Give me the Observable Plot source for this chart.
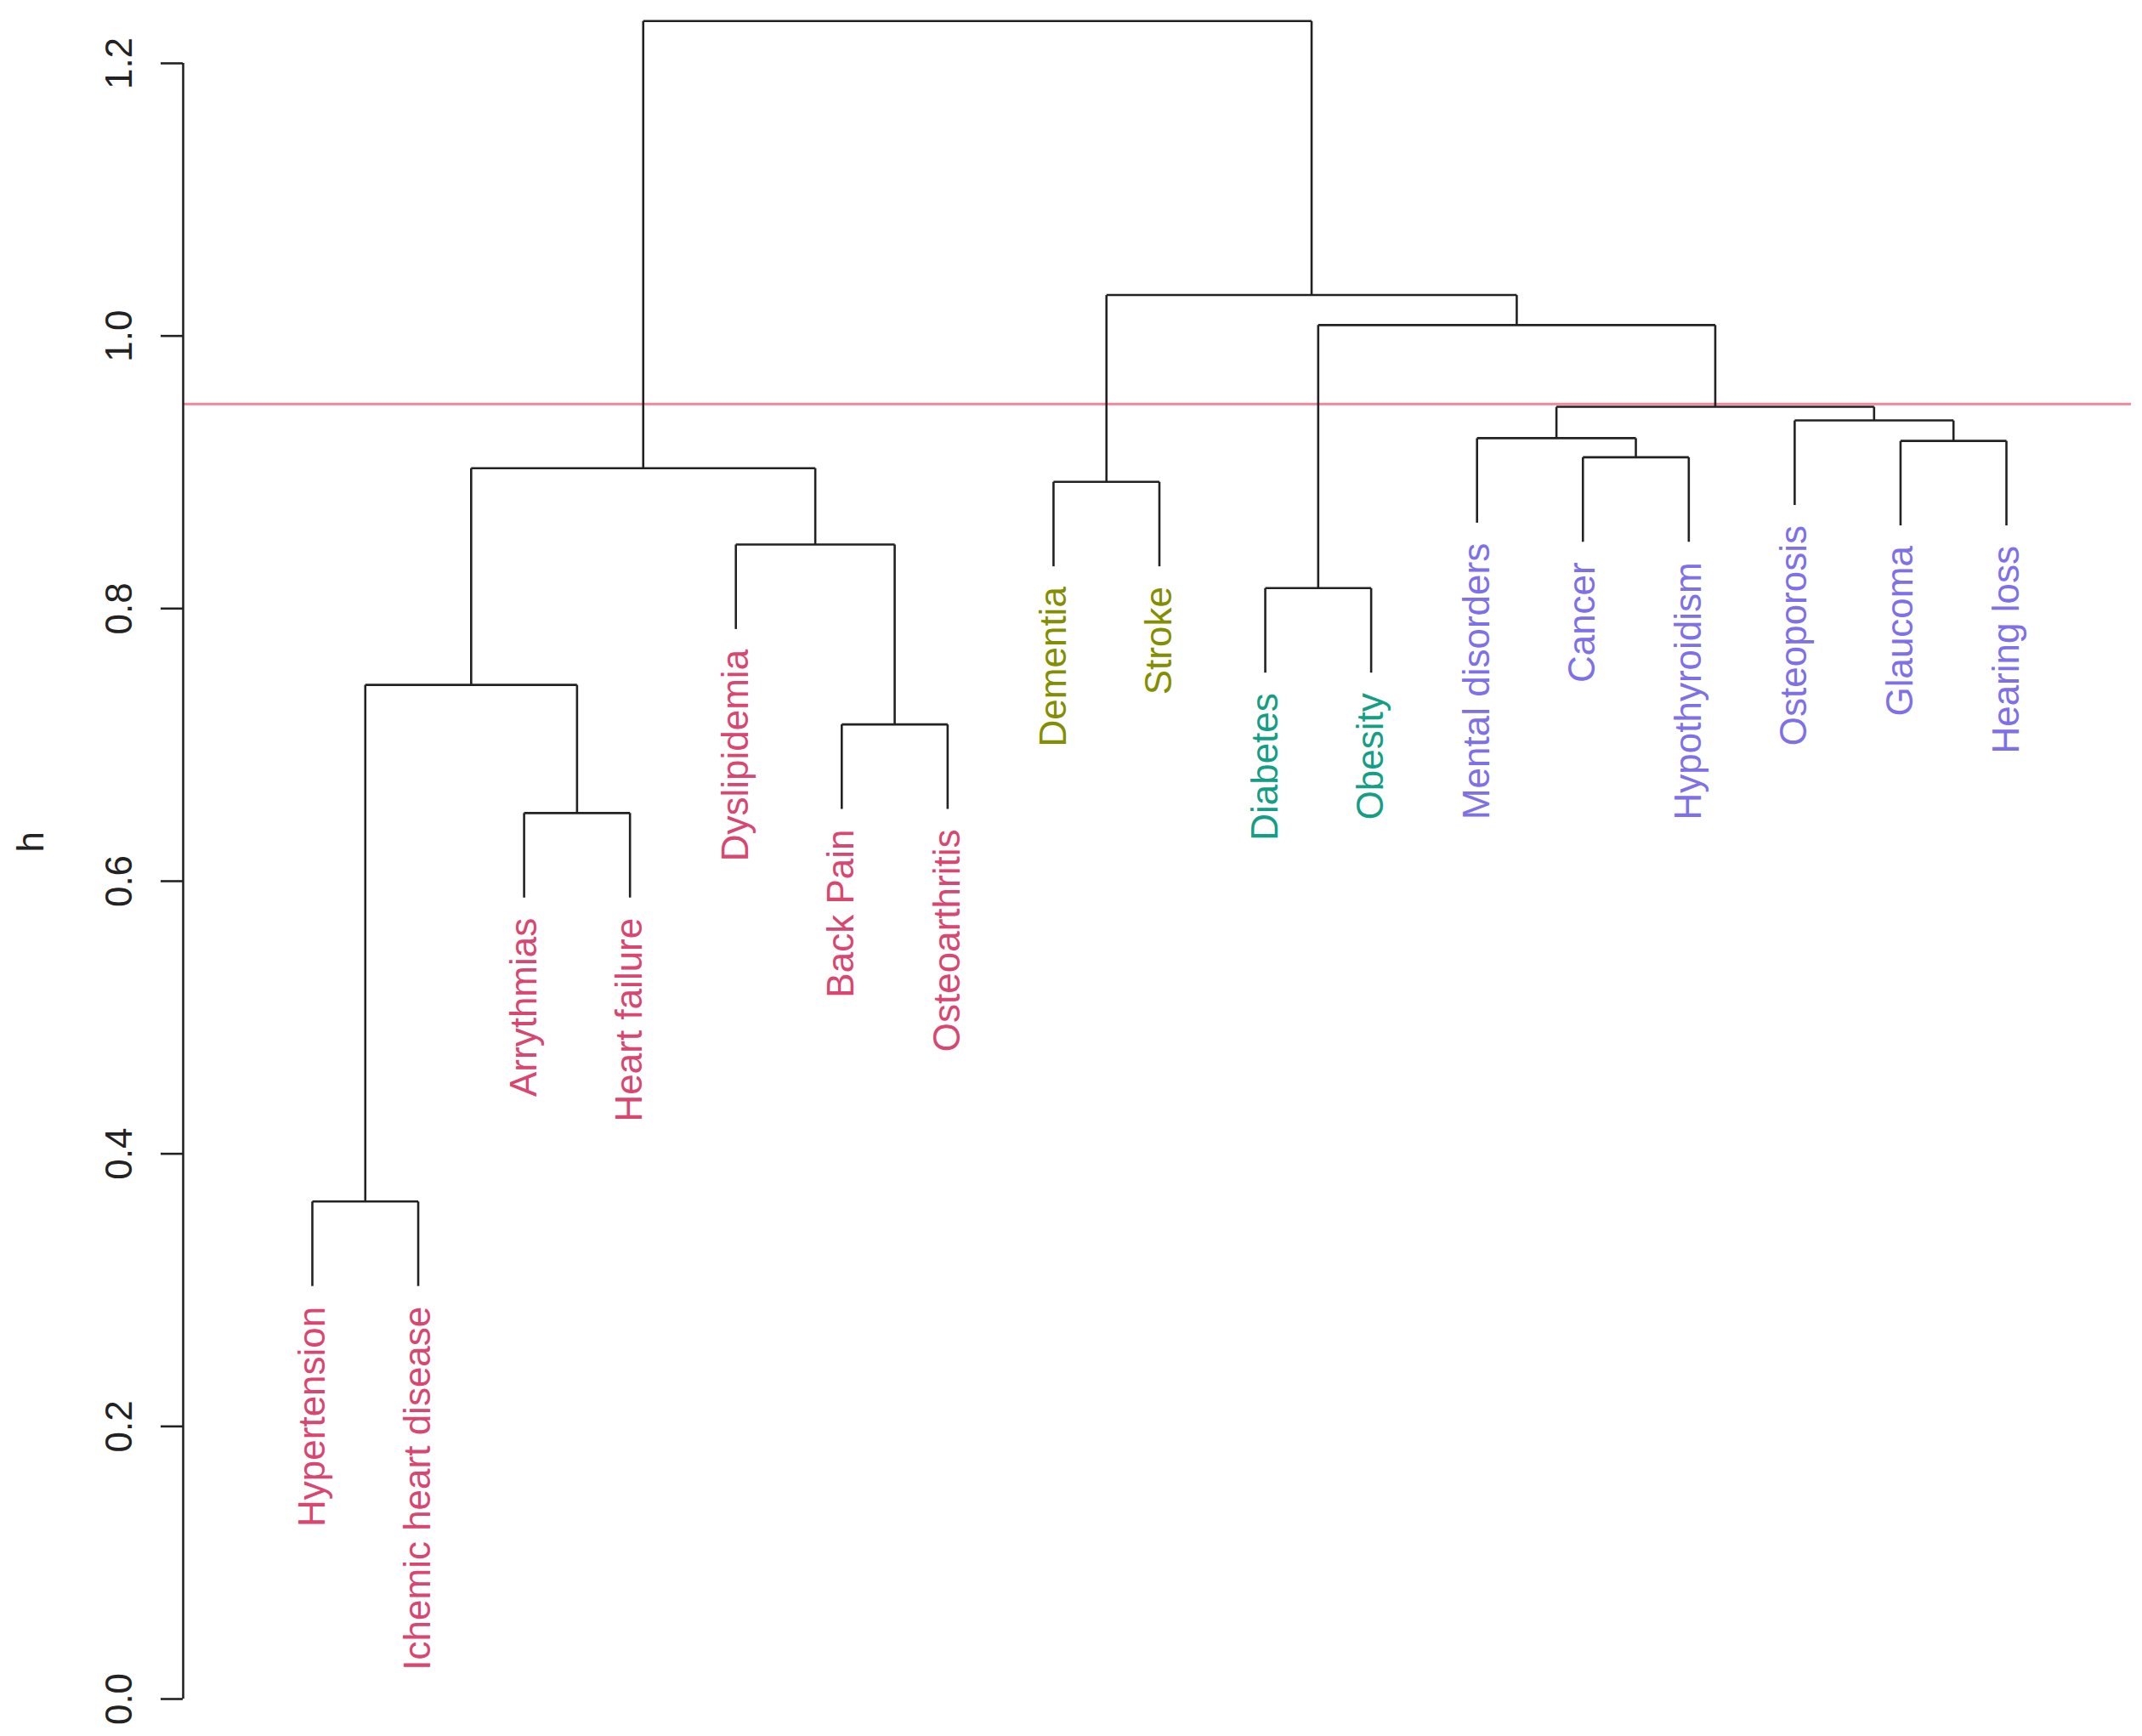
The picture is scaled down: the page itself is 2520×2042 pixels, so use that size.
<!DOCTYPE html>
<html><head><meta charset="utf-8">
<script src="https://cdn.jsdelivr.net/npm/d3@7"></script>
<script src="https://cdn.jsdelivr.net/npm/@observablehq/plot@0.6"></script>
<style>html,body{margin:0;padding:0;background:#fff;overflow:hidden} svg{display:block}</style>
</head><body><div id="chart"></div>
<script>
// Leaves in dendrogram order (left to right)
const leafLabels = ["Hypertension","Ichemic heart disease","Arrythmias","Heart failure","Dyslipidemia","Back Pain","Osteoarthritis","Dementia","Stroke","Diabetes","Obesity","Mental disorders","Cancer","Hypothyroidism","Osteoporosis","Glaucoma","Hearing loss"];
const leafGroups = [1,1,1,1,1,1,1,2,2,3,3,4,4,4,4,4,4];
const groupColors = {1:"#D9466F", 2:"#838E00", 3:"#139E86", 4:"#7E70E8"};
// hclust-style merge matrix: negative = leaf position, positive = earlier merge step
const mergeLeft   = [-1,-3,-6, 1,-10,-5,-8, 4,-13,-16,-12,-15,11, 5, 7, 8];
const mergeRight  = [-2,-4,-7, 2,-11, 3,-9, 6,-14,-17,  9, 10,12,13,14,15];
const mergeHeight = [0.365,0.650,0.715,0.744,0.815,0.847,0.893,0.903,0.911,0.923,0.925,0.938,0.948,1.008,1.030,1.231];
const hang = 0.062;
const cutHeight = [0.95];
const yTicks = [0,0.2,0.4,0.6,0.8,1.0,1.2];
const xDomain = [-0.22, 18.18];

// build tree geometry
const mergePos = [];
const parentHeightOfLeaf = {};
const segments = [];
const posOf = c => c < 0 ? -c : mergePos[c-1];
mergeLeft.forEach((l, k) => {
  const r = mergeRight[k], h = mergeHeight[k];
  mergePos[k] = (posOf(l) + posOf(r)) / 2;
  for (const c of [l, r]) {
    if (c < 0) parentHeightOfLeaf[-c] = h;
    const ch = c < 0 ? h - hang : mergeHeight[c-1];
    segments.push({x1: posOf(c), x2: posOf(c), y1: ch, y2: h});
  }
  segments.push({x1: posOf(l), x2: posOf(r), y1: h, y2: h});
});
const leaves = leafLabels.map((label, i) => ({
  x: i + 1, y: parentHeightOfLeaf[i + 1] - hang, label, group: leafGroups[i]
}));

const chart = Plot.plot({
  width: 2520, height: 2042,
  marginLeft: 215, marginRight: 13, marginTop: 0, marginBottom: 38,
  x: {domain: xDomain, axis: null},
  y: {domain: [0, 1.2], range: [1998, 74]},
  style: {fontFamily: "'Liberation Sans', Arial, sans-serif", background: "#fff", color: "#222"},
  marks: [
    Plot.ruleY(cutHeight, {stroke: "#EF8797", strokeWidth: 3}),
    Plot.link(segments, {x1: "x1", y1: "y1", x2: "x2", y2: "y2", stroke: "#222", strokeWidth: 2.6}),
    Plot.text(leaves, {x: "x", y: "y", text: "label", rotate: -90, textAnchor: "end", lineAnchor: "middle",
      dy: 24, fill: d => groupColors[d.group], fontSize: 44}),
    Plot.ruleX([xDomain[0]], {y1: 0, y2: 1.2, stroke: "#222", strokeWidth: 2.6}),
    Plot.axisY({ticks: yTicks, tickSize: 26, tickFormat: () => "", label: null, stroke: "#222", strokeWidth: 2.6}),
    Plot.text(yTicks, {y: d => d, text: d => d.toFixed(1), frameAnchor: "left", dx: -75, rotate: -90,
      textAnchor: "middle", lineAnchor: "middle", fontSize: 44, fill: "#222"}),
    Plot.text(["h"], {frameAnchor: "left", dx: -179, rotate: -90, lineAnchor: "middle", fontSize: 44, fill: "#222"})
  ]
});
document.getElementById("chart").appendChild(chart);
</script>
</body></html>
